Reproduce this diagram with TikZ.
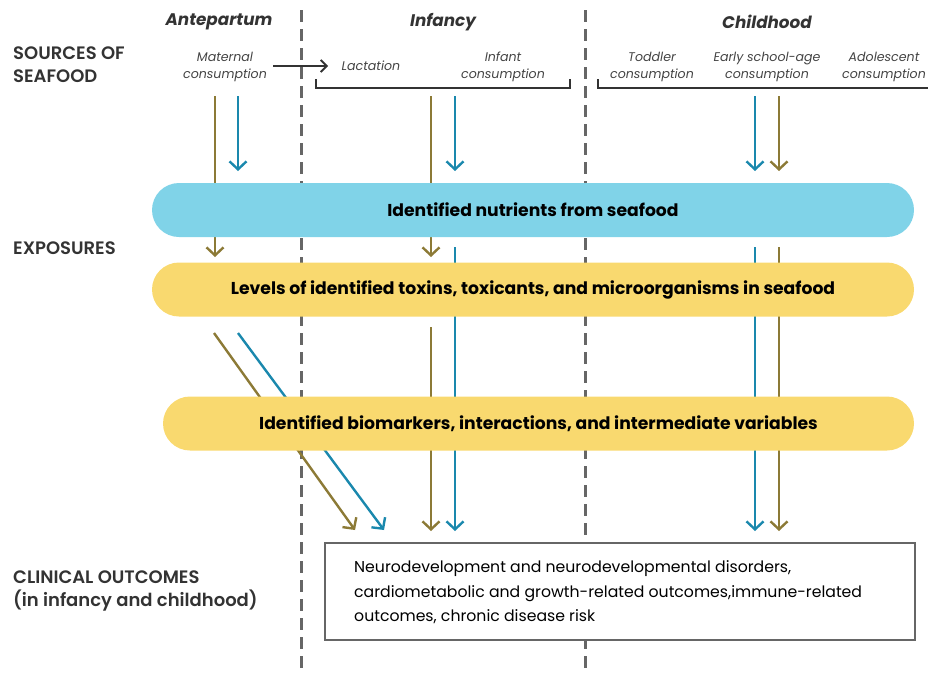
\documentclass[tikz,border=0pt]{standalone}
\usepackage{fontspec}
\setmainfont{Poppins}
\newfontfamily\labelfont{Poppins}[UprightFont=* SemiBold]
\usetikzlibrary{arrows.meta}
\definecolor{seaolive}{HTML}{8C7A36}
\definecolor{seateal}{HTML}{1A88AD}
\definecolor{nutblue}{HTML}{80D3E8}
\definecolor{toxyellow}{HTML}{F9D96F}
\definecolor{ink}{HTML}{333333}
\definecolor{labelgray}{HTML}{444444}
\definecolor{divgray}{HTML}{666666}
\tikzset{
  divider/.style={draw=divgray, line width=3pt, dash pattern=on 12pt off 7pt},
  flow/.style={line width=2.4pt, -{Straight Barb[length=8pt,width=17pt]}},
  pill/.style={rounded corners=27pt, minimum height=54pt, inner sep=0pt,
    font=\fontsize{17.2}{20}\selectfont\bfseries, text=black},
  period/.style={font=\fontsize{16.8}{20}\selectfont\bfseries\itshape, text=ink},
  stage/.style={font=\fontsize{12.6}{17}\selectfont\itshape, text=labelgray, align=center, inner sep=0pt},
  rowlabel/.style={anchor=west, font=\fontsize{18}{23}\selectfont\labelfont, text=ink, align=left, inner sep=0pt},
  bracket/.style={draw=ink, line width=1.8pt},
}
\begin{document}
\begin{tikzpicture}[x=1pt, y=-1pt]
\useasboundingbox (0,0) rectangle (928,673);

% period dividers
\coordinate (d1t) at (301,10); \coordinate (d1b) at (301,673);
\coordinate (d2t) at (585,10); \coordinate (d2b) at (585,673);
\draw[divider] (d1t) -- (d1b);
\draw[divider] (d2t) -- (d2b);

% period headings
\node[period] (hAnte)  at (219,22) {Antepartum};
\node[period] (hInf)   at (443,22) {Infancy};
\node[period] (hChild) at (767,22) {Childhood};

% row labels
\node[rowlabel] (lSrc) at (13,65) {SOURCES OF\\SEAFOOD};
\node[rowlabel] (lExp) at (13,248) {EXPOSURES};
\node[rowlabel] (lOut) at (13,591) {CLINICAL OUTCOMES\\(in infancy and childhood)};

% sources of seafood
\node[stage] (sMat)   at (225,66.5) {Maternal\\consumption};
\node[stage] (sLac)   at (371,66) {Lactation};
\node[stage] (sInf)   at (503,66.5) {Infant\\consumption};
\node[stage] (sTod)   at (652,66.5) {Toddler\\consumption};
\node[stage] (sEarly) at (767,66.5) {Early school-age\\consumption};
\node[stage] (sAdol)  at (884,66.5) {Adolescent\\consumption};

\draw[draw=ink, line width=1.8pt, -{Straight Barb[length=6pt,width=12pt]}] (273,66) coordinate (mStart) -- (328,66) coordinate (mEnd);

% brackets grouping the consumption stages
\draw[bracket] (316,79) -- (316,88) -- (570,88) -- (570,79);
\draw[bracket] (598,79) -- (598,88) -- (928,88);

% arrows from sources into exposures
\coordinate (a1s) at (215,96);  \coordinate (a1e) at (215,257);
\coordinate (a2s) at (238,96);  \coordinate (a2e) at (238,171);
\coordinate (a3s) at (431,96);  \coordinate (a3e) at (431,257);
\coordinate (a4s) at (455,96);  \coordinate (a4e) at (455,171);
\coordinate (a5s) at (755,96);  \coordinate (a5e) at (755,171);
\coordinate (a6s) at (779,96);  \coordinate (a6e) at (779,171);
\draw[flow, seaolive] (a1s) -- (a1e);
\draw[flow, seateal]  (a2s) -- (a2e);
\draw[flow, seaolive] (a3s) -- (a3e);
\draw[flow, seateal]  (a4s) -- (a4e);
\draw[flow, seateal]  (a5s) -- (a5e);
\draw[flow, seaolive] (a6s) -- (a6e);

% arrows from exposures into clinical outcomes
\coordinate (b1s) at (214,333); \coordinate (b1e) at (355,530);
\coordinate (b2s) at (238,333); \coordinate (b2e) at (384,530);
\coordinate (b3s) at (431,327); \coordinate (b3e) at (431,531);
\coordinate (b4s) at (455,247); \coordinate (b4e) at (455,531);
\coordinate (b5s) at (755,247); \coordinate (b5e) at (755,531);
\coordinate (b6s) at (779,247); \coordinate (b6e) at (779,531);
\draw[flow, seaolive] (b1s) -- (b1e);
\draw[flow, seateal]  (b2s) -- (b2e);
\draw[flow, seaolive] (b3s) -- (b3e);
\draw[flow, seateal]  (b4s) -- (b4e);
\draw[flow, seateal]  (b5s) -- (b5e);
\draw[flow, seaolive] (b6s) -- (b6e);

% exposure bands
\node[pill, fill=nutblue, minimum width=762pt] (nut) at (533,210)
  {Identified nutrients from seafood};
\node[pill, fill=toxyellow, minimum width=762pt] (tox) at (533,289.5)
  {Levels of identified toxins, toxicants, and microorganisms in seafood};
\node[pill, fill=toxyellow, minimum width=751pt] (bio) at (538.5,423.5)
  {Identified biomarkers, interactions, and intermediate variables};

% clinical outcomes
\node[draw=divgray, line width=1.8pt, fill=white, minimum width=590pt,
      minimum height=97pt, inner sep=0pt] (out) at (620,591.5) {};
\node[anchor=west, inner sep=0pt, align=left,
      font=\fontsize{15.7}{24.5}\selectfont, text=black] (outText) at (354,592.5)
  {Neurodevelopment and neurodevelopmental disorders,\\
   cardiometabolic and growth-related outcomes,immune-related\\
   outcomes, chronic disease risk};
\end{tikzpicture}
\end{document}
